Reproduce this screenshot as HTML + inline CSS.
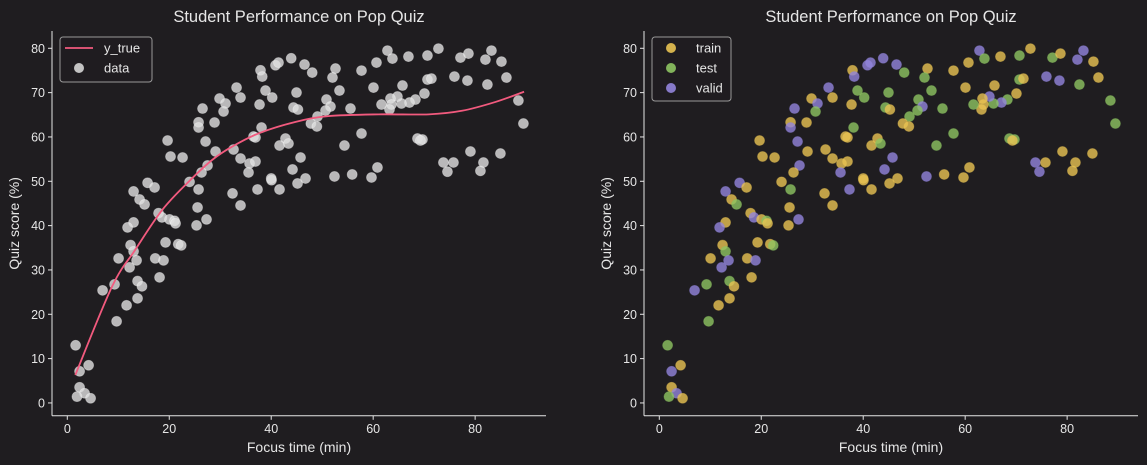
<!DOCTYPE html>
<html><head><meta charset="utf-8">
<style>
html,body{margin:0;padding:0;background:#1f1d20;}
svg{display:block;font-family:"Liberation Sans","DejaVu Sans",sans-serif;}
</style></head>
<body>
<svg id="chart" width="1147" height="465" viewBox="0 0 1147 465">
<rect x="0" y="0" width="1147" height="465" fill="#1f1d20"/>
</svg>
<script>
const xs=[15.75,17.12,23.98,25.75,32.41,37.31,40.06,41.63,45.16,13.0,14.18,15.16,25.55,33.98,17.9,18.57,20.06,21.04,21.24,27.31,25.35,13.0,11.82,19.27,21.76,22.35,12.41,13.0,10.06,13.59,17.25,18.88,12.22,18.1,13.78,14.65,9.27,6.92,13.78,11.63,9.67,1.63,4.18,2.41,2.41,3.39,1.90,4.57,
37.9,38.24,40.84,41.43,43.92,46.53,33.2,38.88,40.2,44.96,29.86,33.98,31.04,30.65,37.71,44.37,45.24,26.53,25.75,25.75,28.88,38.1,19.67,27.12,36.53,36.92,42.8,41.63,43.39,20.25,22.61,29.08,32.61,33.98,45.75,27.51,26.33,35.75,36.92,35.55,44.18,40.0,46.73,
52.41,55.88,59.67,74.57,81.04,
62.8,63.78,66.92,70.65,72.8,77.12,78.69,82.02,83.2,85.16,86.14,82.41,75.94,78.49,70.65,71.43,65.75,60.65,57.71,52.61,48.04,52.02,53.39,60.06,70.06,68.29,67.12,65.55,64.76,63.39,63.59,63.2,61.63,55.55,50.84,51.63,50.65,49.08,47.78,48.96,88.49,89.47,57.71,68.69,69.67,69.27,54.37,79.08,84.96,73.78,75.75,81.63,60.84];
const ys=[49.65,48.61,49.87,48.16,47.26,48.16,50.25,48.16,49.51,47.71,45.90,44.78,44.10,44.55,42.82,41.85,41.40,41.08,40.50,41.40,40.05,40.72,39.59,36.21,35.83,35.54,35.61,34.19,32.61,32.16,32.61,32.16,30.58,28.33,27.49,26.30,26.75,25.40,23.59,22.02,18.41,13.0,8.50,7.14,3.54,2.19,1.42,1.06,
75.04,73.62,76.17,76.78,77.75,76.33,71.14,70.47,68.89,70.02,68.67,68.89,67.54,65.74,67.31,66.64,66.19,66.41,63.32,62.13,63.26,62.13,59.2,58.97,60.10,59.88,59.65,58.07,58.52,55.59,55.37,56.72,57.17,55.14,55.37,53.57,51.99,54.02,54.47,51.99,52.67,50.64,50.64,
51.09,51.54,50.86,52.17,52.35,
79.48,77.68,78.13,78.36,79.93,77.9,78.81,77.45,79.48,77.0,73.4,71.82,73.62,72.72,72.95,73.17,71.6,76.78,74.97,75.43,74.52,73.4,70.47,71.14,69.79,68.44,67.76,67.54,69.12,68.67,67.31,66.19,67.31,66.41,68.44,66.86,65.96,64.61,63.03,62.36,68.22,63.03,60.78,59.65,59.43,59.2,58.07,56.72,56.27,54.24,54.24,54.24,53.12];
const splits="PYYGYPYYYPYGYYYPYGYPYYPYYGYGYPYPPYGYGPYYGGYPYPGY"+"YPPPPPPGGGYYPGYGYPYPYGYPYYYYGYYYYYPPYYYPPYY"+"PYYPY"+"PGYGYGYPPYYGPPGYYYYYGGGYYGPGPYYYGGGPGGYYGGGGGYGYYPYY";
const curveX=[1.57,8.76,13.3,18.6,23.8,28.4,32.3,37.5,44.8,51.2,61.1,70.9,77.4,84.0,89.6];
const curveY=[6.3,26.2,34.5,43.5,49.9,54.8,57.8,60.8,63.4,64.7,65.1,65.1,65.9,67.9,70.2];
const xTicks=[0,20,40,60,80];
const yTicks=[0,10,20,30,40,50,60,70,80];
const splitNames={Y:"train",G:"test",P:"valid"};
const splitColors={Y:"#e8c352",G:"#8dc462",P:"#9285dc"};

const NS="http://www.w3.org/2000/svg";
const svg=document.getElementById('chart');
function mk(tag,attrs,parent){const e=document.createElementNS(NS,tag);for(const k in attrs)e.setAttribute(k,attrs[k]);(parent||svg).appendChild(e);return e;}
const xmin=-3,xmax=93.9,ymin=-2.9,ymax=83.9;
const panels=[{left:52,right:546},{left:644,right:1138}];
const plotTop=31,plotBottom=415.8;
function sx(p,v){return p.left+(v-xmin)/(xmax-xmin)*(p.right-p.left);}
function sy(v){return plotBottom-(v-ymin)/(ymax-ymin)*(plotBottom-plotTop);}
const txt="#e6e6e6";

panels.forEach((p,pi)=>{
  const g=mk('g',{});
  
  
  const t=mk('text',{x:(p.left+p.right)/2,y:22,'text-anchor':'middle','font-size':16.5,fill:txt},g);
  t.textContent="Student Performance on Pop Quiz";
  
  
  const yl=mk('line',{x1:p.left,y1:plotTop,x2:p.left,y2:plotBottom,stroke:txt,'stroke-width':1},g);
  
  
  const xl=mk('line',{x1:p.left,y1:plotBottom,x2:p.right,y2:plotBottom,stroke:txt,'stroke-width':1},g);
  
  
  xTicks.forEach(v=>{
    const X=sx(p,v);
    const tk=mk('line',{x1:X,y1:plotBottom,x2:X,y2:plotBottom+4,stroke:txt},g);
    
    
    const tl=mk('text',{x:X,y:plotBottom+17,'text-anchor':'middle','font-size':12.5,fill:txt},g);
    tl.textContent=v;
    
    
  });
  yTicks.forEach(v=>{
    const Y=sy(v);
    const tk=mk('line',{x1:p.left-4,y1:Y,x2:p.left,y2:Y,stroke:txt},g);
    
    
    const tl=mk('text',{x:p.left-7,y:Y+4.5,'text-anchor':'end','font-size':12.5,fill:txt},g);
    tl.textContent=v;
    
    
  });
  const xt=mk('text',{x:(p.left+p.right)/2,y:452,'text-anchor':'middle','font-size':14,fill:txt},g);
  xt.textContent="Focus time (min)";
  
  
  const yx=p.left-33,yy=(plotTop+plotBottom)/2;
  const yt=mk('text',{x:yx,y:yy,'text-anchor':'middle','font-size':14,fill:txt,transform:`rotate(-90 ${yx} ${yy})`},g);
  yt.textContent="Quiz score (%)";
  
  

  const pts=mk('g',{},g);
  
  
  xs.forEach((v,i)=>{
    const s=splits[i]||'Y';
    const fill=pi===0?'#e0e0e0':splitColors[s];
    const c=mk('circle',{cx:sx(p,v),cy:sy(ys[i]),r:5,fill:fill,'fill-opacity':0.8,stroke:pi===0?'#ffffff':fill,'stroke-opacity':0.4,'stroke-width':0.8},pts);
    
    
  });

  if(pi===0){
    const P=curveX.map((v,i)=>[sx(p,v),sy(curveY[i])]);
    let d=`M${P[0][0]},${P[0][1]}`;
    for(let i=0;i<P.length-1;i++){
      const p0=P[i-1]||P[i],p1=P[i],p2=P[i+1],p3=P[i+2]||P[i+1];
      const c1=[p1[0]+(p2[0]-p0[0])/6,p1[1]+(p2[1]-p0[1])/6];
      const c2=[p2[0]-(p3[0]-p1[0])/6,p2[1]-(p3[1]-p1[1])/6];
      d+=` C${c1[0]},${c1[1]} ${c2[0]},${c2[1]} ${p2[0]},${p2[1]}`;
    }
    const path=mk('path',{d:d,fill:'none',stroke:'#f25a7e','stroke-width':1.8},g);
    
    
    const lg=mk('g',{},g);
    
    
    mk('rect',{x:60,y:37,width:92,height:45,rx:3,fill:'#1f1d20','fill-opacity':0.8,stroke:'#999','stroke-width':1},lg);
    mk('line',{x1:65,y1:48,x2:93,y2:48,stroke:'#f25a7e','stroke-width':1.8},lg);
    const l1=mk('text',{x:104,y:52.5,'font-size':13,fill:txt},lg);l1.textContent="y_true";
    
    
    mk('circle',{cx:79,cy:68,r:5,fill:'#e0e0e0','fill-opacity':0.85},lg);
    const l2=mk('text',{x:104,y:72.5,'font-size':13,fill:txt},lg);l2.textContent="data";
    
    
  } else {
    const lg=mk('g',{},g);
    
    
    mk('rect',{x:652,y:37,width:79,height:64,rx:3,fill:'#1f1d20','fill-opacity':0.8,stroke:'#999','stroke-width':1},lg);
    ['Y','G','P'].forEach((s,k)=>{
      mk('circle',{cx:671,cy:48+k*20,r:5,fill:splitColors[s],'fill-opacity':0.9},lg);
      const l=mk('text',{x:696,y:52.5+k*20,'font-size':13,fill:txt},lg);
      l.textContent=splitNames[s];
      
      
    });
  }
});
</script>
</body></html>
